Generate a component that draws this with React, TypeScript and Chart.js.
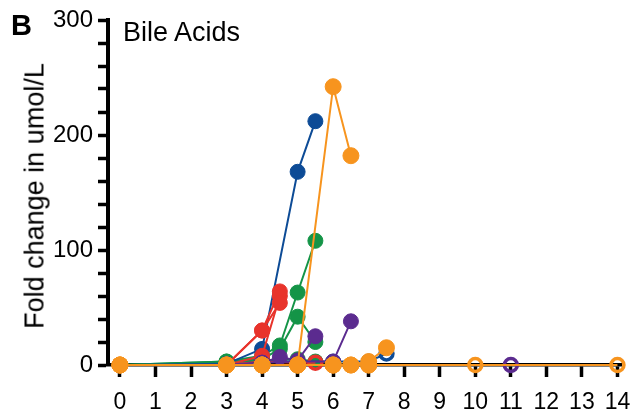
import React, { useEffect, useRef } from "react";
import { Chart, registerables } from "chart.js";

Chart.register(...registerables);

// ---- data ----
const xTicks = [0, 1, 2, 3, 4, 5, 6, 7, 8, 9, 10, 11, 12, 13, 14];
const yMajorTicks = [0, 100, 200, 300];

const blue1Days = [0, 3, 4, 5, 5.5];
const blue1Vals = [0, 1, 14, 168, 212];
const blue2Days = [0, 3, 4, 5, 6, 7, 7.5];
const blue2Vals = [0, 0, 3, 3, 3, 3, 10];

const red1Days = [0, 3, 4, 4.5];
const red1Vals = [0, 0, 30, 54];
const red2Days = [0, 3, 4, 4.5];
const red2Vals = [0, 0, 30, 64];
const red3Days = [3, 4, 4.5];
const red3Vals = [0, 8, 60];
const red4Days = [0, 3, 4, 5, 5.5];
const red4Vals = [0, 0, 3, 2, 2];

const green1Days = [0, 3, 4, 4.5, 5, 5.5];
const green1Vals = [0, 3, 8, 17, 63, 108];
const green2Days = [0, 3, 4, 4.5, 5, 5.5];
const green2Vals = [0, 3, 5, 14, 42, 20];
const green3Days = [0, 3, 4, 5, 5.5, 6];
const green3Vals = [0, 2, 4, 5, 3, 2];

const purple1Days = [0, 3, 4, 4.5, 5, 5.5];
const purple1Vals = [0, 0, 2, 7, 4, 25];
const purple2Days = [0, 3, 4, 5, 6, 6.5];
const purple2Vals = [0, 0, 2, 3, 3, 38];
const purple3Days = [0, 3, 4, 5, 6, 7, 11];
const purple3Vals = [0, 0, 0, 0, 0, 0, 0];

const orange1Days = [0, 3, 4, 5, 6, 6.5];
const orange1Vals = [0, 0, 0, 0, 242, 182];
const orange2Days = [0, 3, 4, 5, 6, 6.5, 7, 7.5];
const orange2Vals = [0, 0, 0, 0, 0, 0, 3, 15];
const orange3Days = [0, 3, 4, 5, 6, 6.5, 7, 10];
const orange3Vals = [0, 0, 0, 0, 0, 0, 0, 0];
const orange4Days = [0, 3, 4, 5, 6, 7, 14];
const orange4Vals = [0, 0, 0, 0, 0, 0, 0];

// ---- styles ----
const BLUE = "#0d4b96";
const RED = "#e8332b";
const GREEN = "#149447";
const PURPLE = "#5b2b8f";
const ORANGE = "#f7941e";
const FONT = "'Liberation Sans', Arial, Helvetica, sans-serif";

function series(days: number[], vals: number[], color: string, order: number, openLast = false, r = 7.5) {
  const n = days.length;
  const isOpen = (i: number) => openLast && i === n - 1;
  return {
    data: days.map((d, i) => ({ x: d, y: vals[i] })),
    showLine: true,
    borderColor: color,
    borderWidth: 2,
    backgroundColor: color,
    pointBackgroundColor: days.map((_, i) => (isOpen(i) ? "rgba(255,255,255,0)" : color)),
    pointBorderColor: color,
    pointBorderWidth: days.map((_, i) => (isOpen(i) ? 3.5 : 1)),
    pointRadius: days.map((_, i) => (isOpen(i) ? 6.5 : r)),
    clip: false as any,
    order,
  };
}

export default function App() {
  const ref = useRef<HTMLCanvasElement | null>(null);

  useEffect(() => {
    if (!ref.current) return;
    const chart = new Chart(ref.current, {
      type: "scatter",
      data: {
        datasets: [
          series(orange1Days, orange1Vals, ORANGE, 0, false, 8),
          series(orange2Days, orange2Vals, ORANGE, 0, false, 8),
          series(orange3Days, orange3Vals, ORANGE, 0, true, 8),
          series(orange4Days, orange4Vals, ORANGE, 0, true, 8),
          series(blue1Days, blue1Vals, BLUE, 3),
          series(blue2Days, blue2Vals, BLUE, 3, true),
          series(red1Days, red1Vals, RED, 2),
          series(red2Days, red2Vals, RED, 2),
          series(red3Days, red3Vals, RED, 2),
          series(red4Days, red4Vals, RED, 2, true),
          series(green1Days, green1Vals, GREEN, 4),
          series(green2Days, green2Vals, GREEN, 4),
          series(green3Days, green3Vals, GREEN, 4),
          series(purple1Days, purple1Vals, PURPLE, 1),
          series(purple2Days, purple2Vals, PURPLE, 1),
          series(purple3Days, purple3Vals, PURPLE, 1, true),
        ] as any,
      },
      options: {
        animation: false,
        responsive: true,
        maintainAspectRatio: false,
        layout: { padding: { top: 20, right: 7, left: 0, bottom: 0 } },
        plugins: { legend: { display: false }, tooltip: { enabled: false }, title: { display: false } },
        scales: {
          x: {
            type: "linear",
            min: -0.336,
            max: 14.1,
            afterBuildTicks: (scale: any) => {
              scale.ticks = xTicks.map((v) => ({ value: v }));
            },
            afterFit: (scale: any) => {
              scale.height = 50;
              scale.paddingLeft = 0;
              scale.paddingRight = 0;
            },
            border: { display: true, color: "#000", width: 3.5 },
            grid: { drawOnChartArea: false, drawTicks: true, tickLength: 12, tickWidth: 3.5, tickColor: "#000" },
            ticks: {
              color: "#000",
              font: { family: FONT, size: 23 },
              padding: 12,
              maxRotation: 0,
              autoSkip: false,
              callback: (v: any) => String(v),
            },
          },
          y: {
            type: "linear",
            min: 0,
            max: 300,
            afterFit: (scale: any) => {
              scale.width = 108;
              scale.paddingTop = 0;
              scale.paddingBottom = 0;
            },
            border: { display: true, color: "#000", width: 4 },
            grid: { drawOnChartArea: false, drawTicks: true, tickLength: 10, tickWidth: 3.5, tickColor: "#000" },
            ticks: {
              stepSize: 20,
              color: "#000",
              font: { family: FONT, size: 24 },
              padding: 5,
              autoSkip: false,
              callback: (v: any) => (yMajorTicks.includes(Number(v)) ? String(v) : ""),
            },
          },
        },
      } as any,
    });
    return () => chart.destroy();
  }, []);

  return (
    <div style={{ position: "absolute", left: 0, top: 0, width: 631, height: 415, background: "#fff", fontFamily: FONT }}>
      <canvas ref={ref} style={{ width: "100%", height: "100%" }} />
      <div style={{ position: "absolute", left: 11, top: 11, fontSize: 29, fontWeight: "bold", lineHeight: 1, color: "#000" }}>B</div>
      <div style={{ position: "absolute", left: 123, top: 19, fontSize: 27, lineHeight: 1, color: "#000" }}>Bile Acids</div>
      <div
        style={{
          position: "absolute",
          left: 35,
          top: 196,
          fontSize: 27,
          lineHeight: 1,
          color: "#000",
          whiteSpace: "nowrap",
          transform: "translate(-50%, -50%) rotate(-90deg)",
        }}
      >
        Fold change in umol/L
      </div>
    </div>
  );
}
